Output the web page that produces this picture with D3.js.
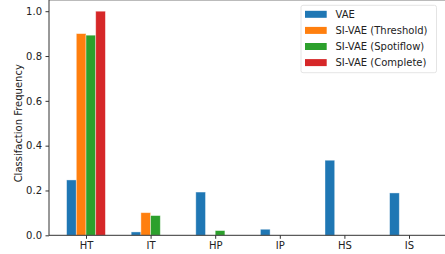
<!DOCTYPE html>
<html><head><meta charset="utf-8">
<script src="https://cdn.jsdelivr.net/npm/d3@7"></script>
<style>body{margin:0;background:#fff}svg{display:block}text{font-family:"DejaVu Sans",sans-serif}</style>
</head><body>
<script>
const categories = ["HT","IT","HP","IP","HS","IS"];
const seriesNames = ["VAE","SI-VAE (Threshold)","SI-VAE (Spotiflow)","SI-VAE (Complete)"];
const seriesColors = ["#1f77b4","#ff7f0e","#2ca02c","#d62728"];
const vae = [0.247,0.015,0.193,0.027,0.335,0.189];
const siThreshold = [0.90,0.101,0,0,0,0];
const siSpotiflow = [0.893,0.088,0.021,0,0,0];
const siComplete = [1.0,0,0,0,0,0];
const yTicks = [0.0,0.2,0.4,0.6,0.8,1.0];
const series = [vae, siThreshold, siSpotiflow, siComplete];

(function(){
const W=445,H=254;
const svg=d3.select("body").append("svg").attr("width",W).attr("height",H);
const mLeft=49, mBottom=235.3, mTop=11.2;
const step=64.6;
const x0 = d3.scalePoint().domain(categories).range([86, 86+step*5]);
const bw = 9.7;
const y = d3.scaleLinear().domain([0,1]).range([mBottom, mTop]);

svg.append("line").attr("x1",mLeft).attr("x2",W).attr("y1",0.5).attr("y2",0.5).attr("stroke","#bbb").attr("stroke-width",1);

series.forEach((vals,si)=>{
  svg.append("g").selectAll("rect").data(vals.map((v,i)=>({v,c:categories[i]})).filter(d=>d.v>0))
    .join("rect")
    .attr("x",d=>x0(d.c)-2*bw+si*bw)
    .attr("y",d=>y(d.v))
    .attr("width",bw)
    .attr("height",d=>mBottom-y(d.v))
    .attr("fill",seriesColors[si])
    .attr("stroke","#fff").attr("stroke-opacity",0.5).attr("stroke-width",0.8);
});

const ya = svg.append("g").attr("transform",`translate(${mLeft},0)`)
  .call(d3.axisLeft(y).tickValues(yTicks).tickFormat(d3.format(".1f")).tickSize(3.5).tickPadding(3.5));
ya.select(".domain").attr("d",`M0,${mBottom}V0`).attr("stroke","#333");
ya.selectAll("text").attr("font-size",10).attr("fill","#222").style("font-family","DejaVu Sans");
ya.selectAll(".tick line").attr("stroke","#333");

const xa = svg.append("g").attr("transform",`translate(0,${mBottom})`)
  .call(d3.axisBottom(x0).tickSize(3.5).tickPadding(3.5));
xa.select(".domain").attr("d",`M${mLeft},0H${W}`).attr("stroke","#333");
xa.selectAll("text").attr("font-size",10).attr("fill","#222").style("font-family","DejaVu Sans");
xa.selectAll(".tick line").attr("stroke","#333");

svg.append("text").attr("transform",`translate(18,${(mTop+mBottom)/2}) rotate(-90)`)
  .attr("text-anchor","middle").attr("dominant-baseline","central")
  .attr("font-size",10).attr("fill","#222").text("Classifaction Frequency");

const lg = svg.append("g");
lg.append("rect").attr("x",301).attr("y",5.3).attr("width",135.5).attr("height",67.4)
  .attr("rx",2).attr("fill","#fff").attr("fill-opacity",0.8).attr("stroke","#ddd").attr("stroke-width",0.8);
seriesNames.forEach((n,i)=>{
  const cy = 14.3 + i*16.1;
  lg.append("rect").attr("x",305).attr("y",cy-3.5).attr("width",21.7).attr("height",7).attr("fill",seriesColors[i]);
  lg.append("text").attr("x",335.5).attr("y",cy).attr("dominant-baseline","central")
    .attr("font-size",10).attr("fill","#222").text(n);
});
})();
</script>
</body></html>
